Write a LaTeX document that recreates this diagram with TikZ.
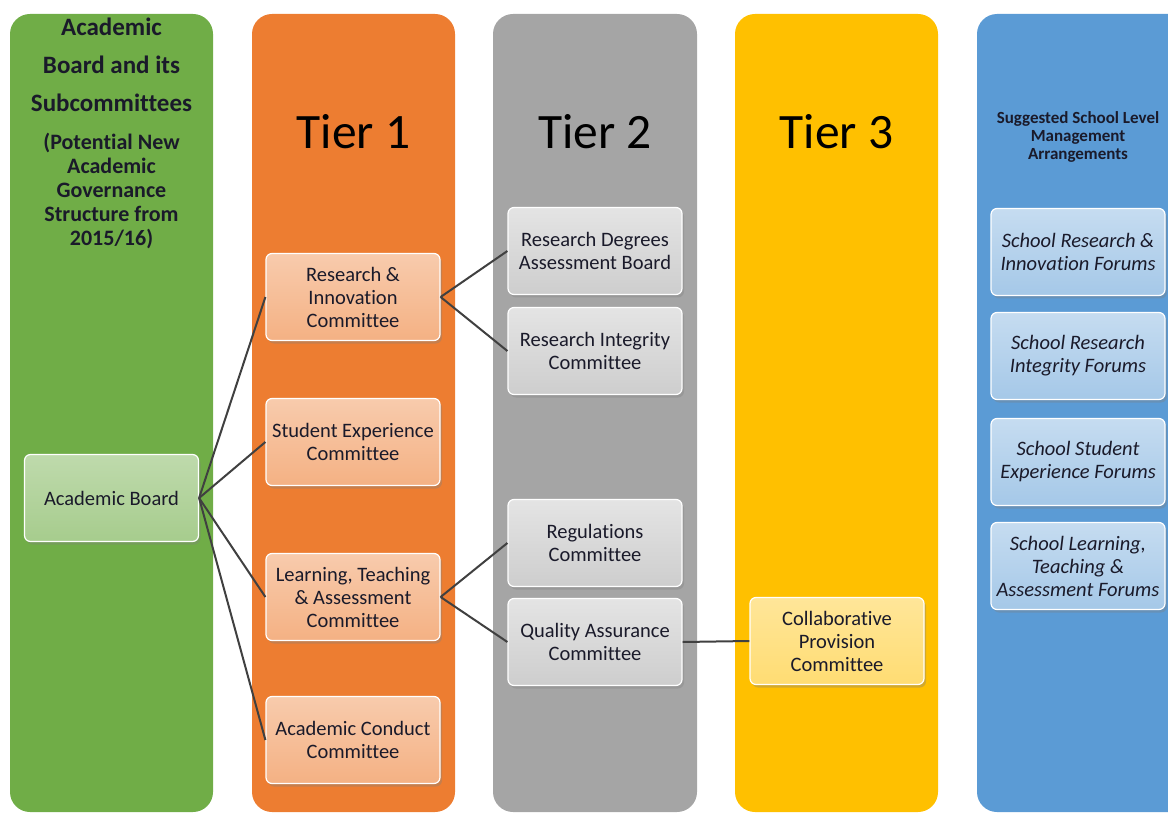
\documentclass[tikz,border=0pt]{standalone}
\usepackage{fontspec}
\setmainfont[Ligatures=NoCommon]{Carlito}
\usetikzlibrary{shadows}
\definecolor{cgreen}{HTML}{70AD47}
\definecolor{corange}{HTML}{ED7D31}
\definecolor{cgray}{HTML}{A5A5A5}
\definecolor{cyellow}{HTML}{FFC000}
\definecolor{cblue}{HTML}{5B9BD5}
\definecolor{txt}{HTML}{1A1A2A}
\tikzset{
  col/.style={rounded corners=20pt},
  box/.style={draw=white, line width=1.2pt, rounded corners=6pt,
    minimum width=174pt, minimum height=87pt, align=center, inner sep=2pt,
    font=\fontsize{20.5}{23}\selectfont, text=txt,
    drop shadow={shadow xshift=2pt, shadow yshift=-3pt, opacity=0.35}},
  gbox/.style={box, top color=cgreen!45!white, bottom color=cgreen!62!white},
  obox/.style={box, top color=corange!40!white, bottom color=corange!60!white},
  ybox/.style={box, top color=cgray!30!white, bottom color=cgray!55!white},
  zbox/.style={box, top color=cyellow!40!white, bottom color=cyellow!55!white},
  bbox/.style={box, top color=cblue!35!white, bottom color=cblue!55!white, font=\fontsize{20.5}{23}\selectfont\itshape},
  gh/.style={anchor=base, inner sep=0pt, font=\fontsize{25}{28}\selectfont\bfseries, text=txt},
  gs/.style={anchor=base, inner sep=0pt, font=\fontsize{22}{24}\selectfont\bfseries, text=txt},
  tier/.style={anchor=base, inner sep=0pt, font=\fontsize{49.5}{56}\selectfont, text=black},
  bh/.style={anchor=base, inner sep=0pt, font=\fontsize{17}{19}\selectfont\bfseries, text=txt},
  link/.style={draw=black!75, line width=2pt}
}
\begin{document}
\begin{tikzpicture}[x=1pt,y=-1pt]
\useasboundingbox (0,0) rectangle (1168,813);
\begin{scope}
\clip (0,0) rectangle (1168,813);
\fill[cgreen, col] (10,14) rectangle (213,812);
\fill[corange, col] (252,14) rectangle (455,812);
\fill[cgray, col] (493,14) rectangle (697,812);
\fill[cyellow, col] (735,14) rectangle (938,812);
\fill[cblue, col] (977,14) rectangle (1190,812);
\end{scope}
% headers
\node[gh] (g1) at (111.5,36) {Academic};
\node[gh] (g2) at (111.5,74) {Board and its};
\node[gh] (g3) at (111.5,112) {Subcommittees};
\node[gs] (g4) at (111.5,150) {(Potential New};
\node[gs] (g5) at (111.5,174) {Academic};
\node[gs] (g6) at (111.5,198) {Governance};
\node[gs] (g7) at (111.5,222) {Structure from};
\node[gs] (g8) at (111.5,246) {2015/16)};
\node[tier] (t1) at (353.5,149) {Tier 1};
\node[tier] (t2) at (595,149) {Tier 2};
\node[tier] (t3) at (836.5,149) {Tier 3};
\node[bh] (b1) at (1078,124) {Suggested School Level};
\node[bh] (b2) at (1078,142) {Management};
\node[bh] (b3) at (1078,160) {Arrangements};
% boxes
\node[gbox] (ab) at (111.5,498) {Academic Board};
\node[obox] (ric) at (353,297) {Research \&\\Innovation\\Committee};
\node[obox] (sec) at (353,442) {Student Experience\\Committee};
\node[obox] (ltac) at (353,597) {Learning, Teaching\\\& Assessment\\Committee};
\node[obox] (acc) at (353,740) {Academic Conduct\\Committee};
\node[ybox] (rdab) at (595,251) {Research Degrees\\Assessment Board};
\node[ybox] (rint) at (595,351) {Research Integrity\\Committee};
\node[ybox] (reg) at (595,543) {Regulations\\Committee};
\node[ybox] (qac) at (595,642) {Quality Assurance\\Committee};
\node[zbox] (cpc) at (837,641) {Collaborative\\Provision\\Committee};
\node[bbox] (s1) at (1078,252) {School Research \&\\Innovation Forums};
\node[bbox] (s2) at (1078,356) {School Research\\Integrity Forums};
\node[bbox] (s3) at (1078,462) {School Student\\Experience Forums};
\node[bbox] (s4) at (1078,566) {School Learning,\\Teaching \&\\Assessment Forums};
% links
\draw[link] (ab.east) -- (ric.west);
\draw[link] (ab.east) -- (sec.west);
\draw[link] (ab.east) -- (ltac.west);
\draw[link] (ab.east) -- (acc.west);
\draw[link] (ric.east) -- (rdab.west);
\draw[link] (ric.east) -- (rint.west);
\draw[link] (ltac.east) -- (reg.west);
\draw[link] (ltac.east) -- (qac.west);
\draw[link] (qac.east) -- (cpc.west);
\end{tikzpicture}
\end{document}
